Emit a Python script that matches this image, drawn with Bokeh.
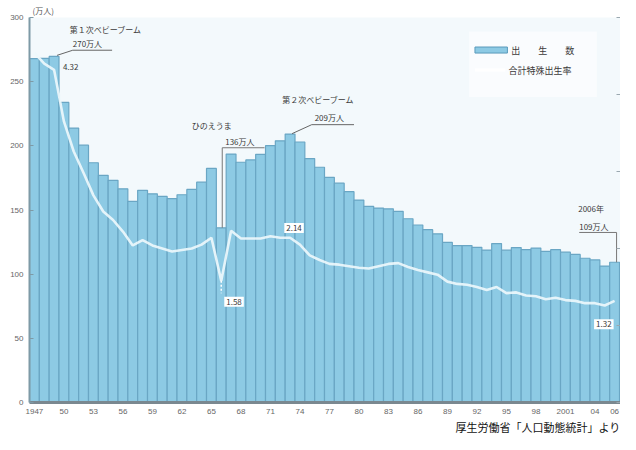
from bokeh.plotting import figure
from bokeh.models import Range1d, LinearAxis, FixedTicker, Label, ColumnDataSource, Title
from bokeh.embed import file_html
from bokeh.resources import INLINE

# ---------------- data ----------------
years = list(range(1947, 2007))
births = [267.9, 268.2, 269.7, 233.8, 213.8, 200.5, 186.8, 177.0, 173.1, 166.5,
          156.7, 165.3, 162.6, 160.6, 158.9, 161.9, 166.0, 171.7, 182.4, 136.1,
          193.6, 187.2, 189.0, 193.4, 200.1, 203.9, 209.2, 203.0, 190.1, 183.3,
          175.5, 170.9, 164.3, 157.7, 152.9, 151.5, 150.9, 149.0, 143.2, 138.3,
          134.7, 131.4, 124.7, 122.2, 122.3, 120.9, 118.8, 123.8, 118.7, 120.7,
          119.2, 120.3, 117.8, 119.1, 117.1, 115.4, 112.4, 111.1, 106.3, 109.3]
tfr = [4.54, 4.40, 4.32, 3.65, 3.26, 2.98, 2.69, 2.48, 2.37, 2.22,
       2.04, 2.11, 2.04, 2.00, 1.96, 1.98, 2.00, 2.05, 2.14, 1.58,
       2.23, 2.13, 2.13, 2.13, 2.16, 2.14, 2.14, 2.05, 1.91, 1.85,
       1.80, 1.79, 1.77, 1.75, 1.74, 1.77, 1.80, 1.81, 1.76, 1.72,
       1.69, 1.66, 1.57, 1.54, 1.53, 1.50, 1.46, 1.50, 1.42, 1.43,
       1.39, 1.38, 1.34, 1.36, 1.33, 1.32, 1.29, 1.29, 1.26, 1.32]
y_ticks = [0, 50, 100, 150, 200, 250, 300]
x_tick_years = [1947, 1950, 1953, 1956, 1959, 1962, 1965, 1968, 1971, 1974, 1977,
                1980, 1983, 1986, 1989, 1992, 1995, 1998, 2001, 2004, 2006]
x_tick_labels = ["1947", "50", "53", "56", "59", "62", "65", "68", "71", "74", "77",
                 "80", "83", "86", "89", "92", "95", "98", "2001", "04", "06"]
legend_births = "出　　生　　数"
legend_tfr = "合計特殊出生率"
unit_label = "(万人)"
source_label = "厚生労働省「人口動態統計」より"

FONT = "Noto Sans CJK JP"
BAR_FILL = "#8dcae4"
BAR_LINE = "#6aa6c4"
TXT = "#3a3a3a"

src = ColumnDataSource(dict(year=years, births=births, tfr=tfr))

p = figure(width=620, height=434, output_backend="svg", toolbar_location=None,
           x_range=Range1d(1946.5, 2006.6), y_range=Range1d(0, 300),
           min_border_left=29, min_border_right=0, min_border_top=12,
           min_border_bottom=30)
p.extra_y_ranges = {"rate": Range1d(0, 5)}
p.background_fill_color = "#f3f9fc"
p.border_fill_color = "white"
p.outline_line_color = None
p.xgrid.grid_line_color = None
p.ygrid.grid_line_color = None

# titles: unit (top-left) and source (bottom-right)
p.add_layout(Title(text=unit_label, align="left", text_font=FONT, text_font_size="8px",
                   text_font_style="normal", text_color="#555555", standoff=4,
                   offset=3), "above")
p.add_layout(Title(text=source_label, align="right", text_font=FONT,
                   text_font_size="11px", text_font_style="normal",
                   text_color="#111111", standoff=0), "below")

# bars
p.vbar(x="year", top="births", width=1.0, source=src, fill_color=BAR_FILL,
       line_color=BAR_LINE, line_width=1.2)
# TFR line
p.line(x="year", y="tfr", source=src, y_range_name="rate", line_color="#eef8fc",
       line_width=2.6, line_alpha=0.9)

# axes
ya = p.yaxis[0]
ya.ticker = FixedTicker(ticks=y_ticks)
ya.major_tick_in = 4
ya.major_tick_out = 0
ya.minor_tick_line_color = None
ya.axis_line_color = "#7e9aa6"
ya.axis_line_width = 2
ya.major_tick_line_color = "#7e9aa6"
ya.major_label_text_font_size = "8px"
ya.major_label_text_color = "#666666"
ya.major_label_standoff = 6

xa = p.xaxis[0]
xa.ticker = FixedTicker(ticks=x_tick_years)
xa.major_label_overrides = {y: l for y, l in zip(x_tick_years, x_tick_labels)}
xa.major_tick_in = 0
xa.major_tick_out = 0
xa.minor_tick_line_color = None
xa.axis_line_color = "#7a8890"
xa.axis_line_width = 3
xa.major_label_text_font_size = "8px"
xa.major_label_text_color = "#666666"
xa.major_label_standoff = 6

ra = LinearAxis(y_range_name="rate", ticker=FixedTicker(ticks=[0, 1, 2, 3, 4, 5]))
ra.major_label_text_color = None
ra.major_tick_in = 4
ra.major_tick_out = 0
ra.minor_tick_line_color = None
ra.axis_line_color = "#9aa8b0"
ra.major_tick_line_color = "#9aa8b0"
ra.major_label_standoff = 0
p.add_layout(ra, "right")


def lab(x, y, text, size="8px", align="left", color=TXT, bg=None, yr="default"):
    kw = dict(x=x, y=y, text=text, text_font=FONT, text_font_size=size,
              text_align=align, text_baseline="middle", text_color=color,
              y_range_name=yr)
    if bg:
        kw.update(background_fill_color=bg, padding=2)
    p.add_layout(Label(**kw))


# legend
p.quad(left=[1991.2], right=[2004.2], bottom=[238], top=[289], fill_color="white",
       fill_alpha=0.55, line_color=None)
p.quad(left=[1991.8], right=[1995.1], bottom=[272.3], top=[277.0], fill_color=BAR_FILL,
       line_color="#5a9abb")
lab(1995.5, 274.6, legend_births, size="9px")
p.line(x=[1991.8, 1994.9], y=[259, 259], line_color="white", line_width=3)
lab(1995.2, 259, legend_tfr, size="9px")

# 1st baby boom
lab(1950.6, 290.8, "第１次ベビーブーム")
lab(1950.9, 279.5, "270万人")
p.line(x=[1949.3, 1950.9, 1954.9], y=[270.5, 274.5, 274.5], line_color="#666666",
       line_width=1)
lab(1949.9, 261.5, "4.32")

# hinoeuma
lab(1963.0, 215.5, "ひのえうま")
lab(1966.4, 203.5, "136万人")
p.line(x=[1970.4, 1966.1, 1966.1], y=[198.5, 198.5, 136.1], line_color="#777777",
       line_width=1)
p.line(x=[1966.0, 1966.0], y=[1.58, 1.42], y_range_name="rate", line_color="white",
       line_width=1.5, line_dash="2 2")
lab(1967.3, 78.5, "1.58", align="center", bg="white")

# 2nd baby boom
lab(1972.2, 236.0, "第２次ベビーブーム")
lab(1975.5, 222.0, "209万人")
p.line(x=[1973.2, 1975.2, 1979.5], y=[209.5, 216.5, 216.5], line_color="#666666",
       line_width=1)
lab(1973.4, 136.0, "2.14", align="center", bg="white")

# 2006
lab(2002.3, 151.5, "2006年")
lab(2002.4, 137.5, "109万人")
p.line(x=[2002.4, 2006.2, 2006.2], y=[132.5, 132.5, 109.3], line_color="#777777",
       line_width=1)
lab(2005.9, 61.0, "1.32", align="right", bg="white")

open("out.html", "w").write(file_html(p, INLINE))
